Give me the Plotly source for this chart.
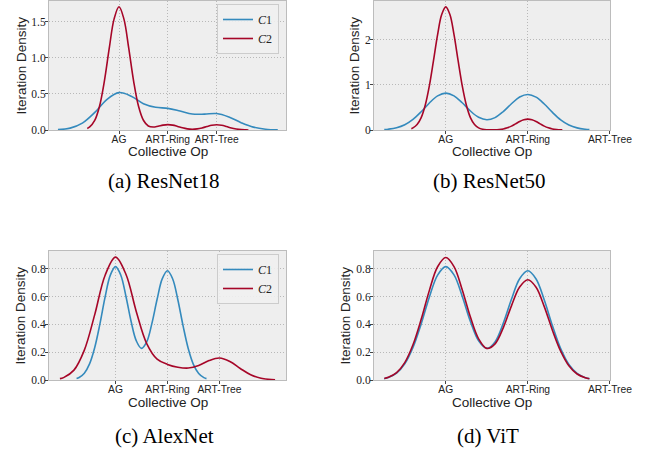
import plotly.graph_objects as go

W, H = 649, 455

# ---------------- data ----------------
categories = ["AG", "ART-Ring", "ART-Tree"]
cat_pos = [0, 1, 2]

# (a) ResNet18
a_c1_x = [-1.25, -1.0, -0.75, -0.5, -0.25, 0.0, 0.25, 0.5, 0.75, 1.0, 1.25, 1.5, 1.75, 2.0, 2.25, 2.5, 2.75, 3.0, 3.25]
a_c1_y = [0.005, 0.026, 0.095, 0.240, 0.423, 0.519, 0.469, 0.365, 0.315, 0.300, 0.263, 0.222, 0.220, 0.228, 0.180, 0.102, 0.040, 0.011, 0.002]
a_c2_x = [-0.65, -0.6, -0.5, -0.4, -0.3, -0.2, -0.1, 0.0, 0.1, 0.2, 0.3, 0.4, 0.5, 0.6, 0.7, 0.8, 0.9, 1.0,
          1.1, 1.2, 1.3, 1.4, 1.5, 1.6, 1.7, 1.8, 1.9, 2.0, 2.1, 2.2, 2.3, 2.4, 2.5, 2.6, 2.65]
a_c2_y = [0.022, 0.042, 0.129, 0.327, 0.675, 1.132, 1.542, 1.710, 1.542, 1.132, 0.676, 0.329, 0.135, 0.056, 0.041, 0.052, 0.068, 0.075,
          0.068, 0.050, 0.030, 0.016, 0.011, 0.016, 0.029, 0.048, 0.065, 0.072, 0.065, 0.048, 0.028, 0.014, 0.005, 0.002, 0.001]

# C1 curve shared by ResNet50 / AlexNet / ViT
c1_x = [-0.75, -0.7, -0.6, -0.5, -0.4, -0.3, -0.2, -0.1, 0.0, 0.1, 0.2, 0.3, 0.4, 0.5,
        0.6, 0.7, 0.8, 0.9, 1.0, 1.1, 1.2, 1.3, 1.4, 1.5, 1.6, 1.7, 1.75]
b_c1_y = [0.010, 0.018, 0.049, 0.116, 0.234, 0.403, 0.597, 0.754, 0.815, 0.755, 0.602, 0.420, 0.281, 0.227,
          0.274, 0.407, 0.580, 0.728, 0.785, 0.726, 0.575, 0.389, 0.225, 0.111, 0.047, 0.017, 0.010]

# (b) ResNet50
b_c2_x = [-0.42, -0.4, -0.35, -0.3, -0.25, -0.2, -0.15, -0.1, -0.05, 0.0, 0.05, 0.1, 0.15, 0.2, 0.25, 0.3, 0.35, 0.4,
          0.45, 0.5, 0.55, 0.6, 0.65, 0.7, 0.75, 0.8, 0.85, 0.9, 0.95, 1.0, 1.05, 1.1, 1.15, 1.2, 1.25, 1.3, 1.35, 1.4, 1.42]
b_c2_y = [0.030, 0.046, 0.120, 0.274, 0.552, 0.979, 1.531, 2.108, 2.551, 2.720, 2.551, 2.108, 1.531, 0.979, 0.552, 0.274, 0.120, 0.046,
          0.016, 0.005, 0.003, 0.004, 0.011, 0.024, 0.049, 0.086, 0.135, 0.186, 0.225, 0.240, 0.225, 0.186, 0.135, 0.086, 0.049, 0.024, 0.011, 0.004, 0.003]

# (c) AlexNet
c_c1_y = list(b_c1_y)
c_c2_x = [-1.07, -1.0, -0.8, -0.6, -0.4, -0.2, 0.0, 0.2, 0.4, 0.6, 0.8, 1.0, 1.2, 1.4, 1.6, 1.8, 2.0, 2.2, 2.4, 2.6, 2.8, 3.0, 3.07]
c_c2_y = [0.010, 0.017, 0.071, 0.215, 0.470, 0.753, 0.883, 0.760, 0.491, 0.262, 0.150, 0.112, 0.092, 0.086, 0.104, 0.140, 0.158, 0.133, 0.083, 0.038, 0.013, 0.003, 0.002]

# (d) ViT
d_c1_y = list(b_c1_y)
d_c2_y = [0.011, 0.019, 0.053, 0.125, 0.253, 0.436, 0.644, 0.814, 0.880, 0.815, 0.649, 0.452, 0.296, 0.227,
          0.260, 0.375, 0.533, 0.668, 0.720, 0.666, 0.527, 0.356, 0.207, 0.102, 0.043, 0.016, 0.009]

captions = ["(a) ResNet18", "(b) ResNet50", "(c) AlexNet", "(d) ViT"]
series_names = ["<i>C</i>1", "<i>C</i>2"]

# ---------------- styling ----------------
BLUE = "#348ABD"
RED = "#A60628"
BG = "#EEEEEE"
SANS = "Liberation Sans"
SERIF = "Liberation Serif"


def px_x(p):
    return p / W


def px_y(p):
    return 1 - p / H


panels = [
    dict(ax="", xd=(49, 286), yd=(1, 130), xr=[-1.433, 3.419], yr=[0, 1.79], dt=0.5, fmt=".1f",
         c1=(a_c1_x, a_c1_y), c2=(a_c2_x, a_c2_y), legend="legend", cap=(163, 181), ytx=21),
    dict(ax="2", xd=(374, 610), yd=(1, 130), xr=[-0.875, 2.001], yr=[0, 2.85], dt=1, fmt="d",
         c1=(c1_x, b_c1_y), c2=(b_c2_x, b_c2_y), legend=None, cap=(489, 181), ytx=354),
    dict(ax="3", xd=(49, 286), yd=(251, 380), xr=[-1.28, 3.28], yr=[0, 0.927], dt=0.2, fmt=".1f",
         c1=(c1_x, c_c1_y), c2=(c_c2_x, c_c2_y), legend="legend2", cap=(164, 436), ytx=20),
    dict(ax="4", xd=(374, 610), yd=(251, 380), xr=[-0.875, 2.001], yr=[0, 0.927], dt=0.2, fmt=".1f",
         c1=(c1_x, d_c1_y), c2=(c1_x, d_c2_y), legend=None, cap=(488, 436), ytx=345),
]

fig = go.Figure()
annotations = []
layout_axes = {}

for p in panels:
    xa = "x" + p["ax"]
    ya = "y" + p["ax"]
    for (xs, ys), name, col in ((p["c1"], series_names[0], BLUE), (p["c2"], series_names[1], RED)):
        kw = dict(legend=p["legend"]) if p["legend"] else {}
        fig.add_trace(go.Scatter(
            x=xs, y=ys, mode="lines", name=name,
            line=dict(color=col, width=1.6, shape="spline", smoothing=1.0),
            xaxis=xa, yaxis=ya, showlegend=p["legend"] is not None, hoverinfo="skip", **kw))

    common = dict(showgrid=True, gridcolor="#b8b8b8", griddash="1px,2px", gridwidth=1,
                  showline=True, linecolor="#bcbcbc", linewidth=1, mirror=True,
                  ticks="outside", ticklen=3, tickwidth=1, tickcolor="#444444",
                  zeroline=False, automargin=False, fixedrange=True)
    layout_axes["xaxis" + p["ax"]] = dict(
        domain=[px_x(p["xd"][0]), px_x(p["xd"][1])], range=p["xr"], anchor=ya,
        tickmode="array", tickvals=cat_pos, ticktext=categories, ticklabelstandoff=-3,
        tickfont=dict(family=SANS, size=10.3, color="#222222"), **common)
    layout_axes["yaxis" + p["ax"]] = dict(
        domain=[px_y(p["yd"][1]), px_y(p["yd"][0])], range=p["yr"], anchor=xa,
        tick0=0, dtick=p["dt"], tickformat=p["fmt"], ticklabelstandoff=-3,
        tickfont=dict(family=SERIF, size=11.5, color="#222222"), **common)

    # axis titles
    xc = (p["xd"][0] + p["xd"][1]) / 2
    annotations.append(dict(text="Collective Op", x=px_x(xc), y=px_y(p["yd"][1] + 22),
                            xref="paper", yref="paper", showarrow=False, xanchor="center", yanchor="middle",
                            font=dict(family=SANS, size=13.5, color="#222222")))
    yc = (p["yd"][0] + p["yd"][1]) / 2
    annotations.append(dict(text="Iteration Density", x=px_x(p["ytx"]), y=px_y(yc), textangle=-90,
                            xref="paper", yref="paper", showarrow=False, xanchor="center", yanchor="middle",
                            font=dict(family=SANS, size=13.5, color="#222222")))

for p, cap in zip(panels, captions):
    annotations.append(dict(text=cap, x=px_x(p["cap"][0]), y=px_y(p["cap"][1]),
                            xref="paper", yref="paper", showarrow=False, xanchor="center", yanchor="middle",
                            font=dict(family=SERIF, size=21, color="#000000")))

legend_style = dict(bgcolor="rgba(240,240,240,0.9)", bordercolor="#cccccc", borderwidth=1,
                    font=dict(family=SERIF, size=12, color="#222222"),
                    xanchor="left", yanchor="top", tracegroupgap=0, itemwidth=30)

fig.update_layout(
    width=W, height=H,
    margin=dict(l=0, r=0, t=0, b=0),
    paper_bgcolor="white", plot_bgcolor=BG,
    annotations=annotations,
    legend=dict(x=px_x(217), y=px_y(4), **legend_style),
    legend2=dict(x=px_x(217), y=px_y(254), **legend_style),
    **layout_axes,
)

# remove the browser's default 8px page margin so the figure fills the window exactly
fig.write_html("out.html", config={"displayModeBar": False},
               post_script="document.body.style.margin='0px';")
